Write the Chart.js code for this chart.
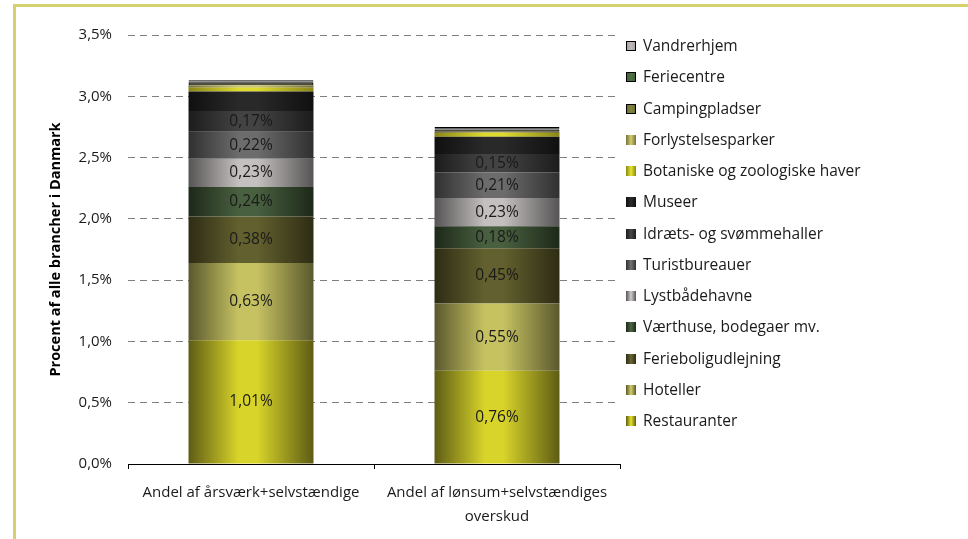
<!DOCTYPE html>
<html><head><meta charset="utf-8">
<script src="https://cdn.jsdelivr.net/npm/chart.js@4"></script>
<style>
html,body{margin:0;padding:0;background:#fff;width:968px;height:539px;overflow:hidden;font-family:"Open Sans",sans-serif;}
#frame{position:absolute;left:13px;top:4px;width:980px;height:560px;border-left:3px solid #d6d16f;border-top:3px solid #d6d16f;}
#c{position:absolute;left:0;top:0;}
#legend{position:absolute;left:626px;top:0;width:340px;height:539px;}
.li{position:absolute;left:0;white-space:nowrap;font-size:15.5px;color:#1a1a1a;height:20px;line-height:20px;}
.sw{position:absolute;left:0;top:5px;width:10px;height:10px;box-sizing:border-box;}
.lt{position:absolute;left:17px;top:-1px;}
</style></head><body>
<div id="frame"></div>
<canvas id="c" width="968" height="539"></canvas>
<div id="legend"></div>
<script>
// ---- data ----
const categories = [['Andel af årsværk+selvstændige'], ['Andel af lønsum+selvstændiges', 'overskud']];
const seriesNames = ['Restauranter', 'Hoteller', 'Ferieboligudlejning', 'Værthuse, bodegaer mv.', 'Lystbådehavne',
  'Turistbureauer', 'Idræts- og svømmehaller', 'Museer', 'Botaniske og zoologiske haver', 'Forlystelsesparker',
  'Campingpladser', 'Feriecentre', 'Vandrerhjem'];
const restauranter = [1.01, 0.76];
const hoteller = [0.63, 0.55];
const ferieboligudlejning = [0.38, 0.45];
const vaerthuse = [0.24, 0.18];
const lystbaadehavne = [0.23, 0.23];
const turistbureauer = [0.22, 0.21];
const idraetshaller = [0.17, 0.15];
const museer = [0.16, 0.14];
const botaniske = [0.03, 0.03];
const forlystelsesparker = [0.02, 0.01];
const campingpladser = [0.02, 0.02];
const feriecentre = [0.01, 0.01];
const vandrerhjem = [0.01, 0.01];
const yTicks = [0, 0.5, 1.0, 1.5, 2.0, 2.5, 3.0, 3.5];
const labelledSeries = 7;

// ---- styles ----
const seriesValues = [restauranter, hoteller, ferieboligudlejning, vaerthuse, lystbaadehavne, turistbureauer,
  idraetshaller, museer, botaniske, forlystelsesparker, campingpladser, feriecentre, vandrerhjem];
const edgeColors = ['#5e5c14', '#5a582e', '#2e2c14', '#1d2819', '#565454', '#303030', '#1c1c1c', '#101010',
  '#8a8718', '#74723a', '#6e6e2e', '#44623a', '#a8a4a4'];
const centerColors = ['#d8d42a', '#c6c262', '#62602e', '#48603f', '#c4c0bf', '#6c6c6c', '#434343', '#292929',
  '#dedb2e', '#c8c46a', '#828240', '#4e7044', '#bcb8b8'];
const bordered = [false, false, false, false, false, false, false, false, false, false, true, true, true];
const BAR_PCT = 0.508;
const FONT = '"Open Sans", sans-serif';

function gradFor(i) {
  return function (ctx) {
    const chart = ctx.chart;
    const x = chart.scales && chart.scales.x;
    if (!x || ctx.dataIndex === undefined || !isFinite(x.left)) return centerColors[i];
    const cx = x.getPixelForValue(ctx.dataIndex);
    const w = (x.width / categories.length) * BAR_PCT;
    const g = chart.ctx.createLinearGradient(cx - w / 2, 0, cx + w / 2, 0);
    g.addColorStop(0, edgeColors[i]);
    g.addColorStop(0.4, centerColors[i]);
    g.addColorStop(0.55, centerColors[i]);
    g.addColorStop(1, edgeColors[i]);
    return g;
  };
}

const datasets = seriesNames.map((name, i) => ({
  label: name,
  data: seriesValues[i],
  backgroundColor: gradFor(i),
  borderColor: '#000000',
  borderWidth: bordered[i] ? 1 : 0,
  borderSkipped: false,
  barPercentage: BAR_PCT,
  categoryPercentage: 1.0
}));

const fmt = v => v.toFixed(2).replace('.', ',') + '%';

const labelPlugin = {
  id: 'segLabels',
  afterDatasetsDraw(chart) {
    const c = chart.ctx;
    c.save();
    c.font = '15.5px ' + FONT;
    c.fillStyle = '#1a1a1a';
    c.textAlign = 'center';
    c.textBaseline = 'middle';
    for (let d = 0; d < labelledSeries; d++) {
      const meta = chart.getDatasetMeta(d);
      meta.data.forEach((el, j) => {
        const v = chart.data.datasets[d].data[j];
        c.fillText(fmt(v), el.x, (el.y + el.base) / 2);
      });
    }
    c.restore();
  }
};

new Chart(document.getElementById('c'), {
  type: 'bar',
  data: { labels: categories, datasets },
  options: {
    responsive: false,
    animation: false,
    devicePixelRatio: 1,
    layout: { padding: { left: 43, right: 348, top: 35, bottom: 0 } },
    plugins: { legend: { display: false }, tooltip: { enabled: false }, title: { display: false } },
    scales: {
      x: {
        stacked: true,
        offset: true,
        border: { display: true, color: '#000000', width: 1 },
        grid: { display: true, drawOnChartArea: false, drawTicks: true, tickLength: 5, color: '#000000', offset: true },
        ticks: { color: '#1a1a1a', font: { family: FONT, size: 15, lineHeight: 1.65 }, padding: 11, maxRotation: 0, autoSkip: false },
        afterFit: s => { s.height = 75; }
      },
      y: {
        stacked: true,
        min: 0, max: 3.5,
        border: { display: false, dash: [7, 5] },
        grid: { color: '#808080', lineWidth: 1, drawTicks: false },
        afterBuildTicks: s => { s.ticks = yTicks.map(v => ({ value: v })); },
        ticks: {
          color: '#1a1a1a', padding: 16,
          font: { family: FONT, size: 15 },
          callback: v => Number(v).toFixed(1).replace('.', ',') + '%'
        },
        title: { display: true, text: 'Procent af alle brancher i Danmark', color: '#000000', font: { family: FONT, size: 14.5, weight: 'bold' }, padding: { top: 4, bottom: 4 } },
        afterFit: s => { s.width = 85; }
      }
    }
  },
  plugins: [labelPlugin]
});

// ---- legend (HTML, reversed order) ----
const lg = document.getElementById('legend');
for (let k = 0; k < seriesNames.length; k++) {
  const i = seriesNames.length - 1 - k;
  const item = document.createElement('div');
  item.className = 'li';
  item.style.top = (46 + k * 31.25 - 10) + 'px';
  const sw = document.createElement('div');
  sw.className = 'sw';
  sw.style.background = `linear-gradient(to right, ${edgeColors[i]}, ${centerColors[i]} 45%, ${centerColors[i]} 55%, ${edgeColors[i]})`;
  if (bordered[i]) sw.style.border = '1px solid #000';
  const t = document.createElement('span');
  t.className = 'lt';
  t.textContent = seriesNames[i];
  item.appendChild(sw); item.appendChild(t);
  lg.appendChild(item);
}
</script>
</body></html>
